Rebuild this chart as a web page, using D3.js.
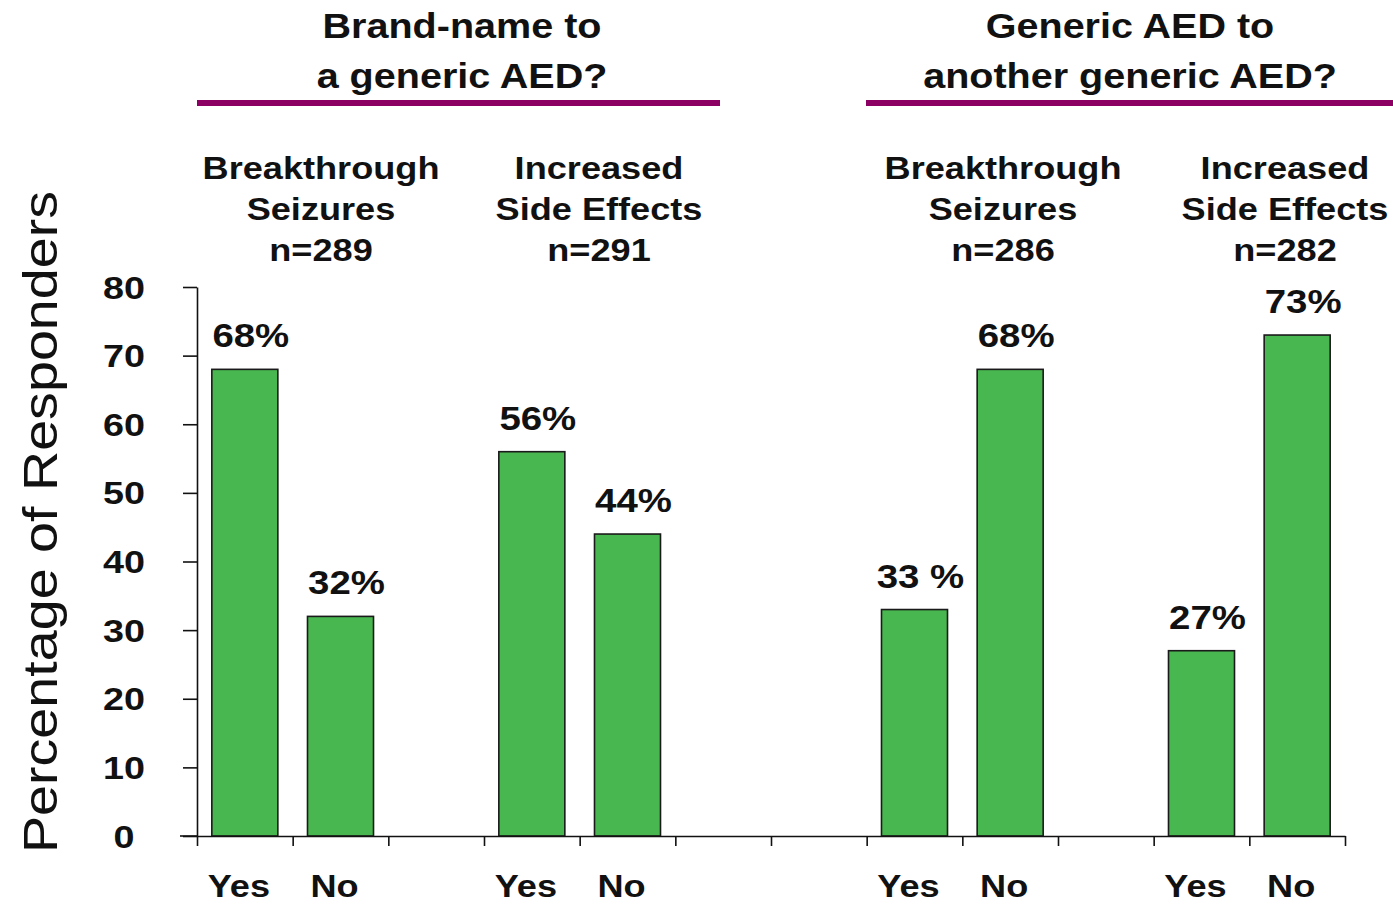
<!DOCTYPE html>
<html>
<head>
<meta charset="utf-8">
<script src="https://cdn.jsdelivr.net/npm/d3@7"></script>
<style>
  html, body { margin: 0; padding: 0; background: #fff; }
  svg { display: block; }
  text { font-family: "Liberation Sans", Arial, sans-serif; fill: #111; }
</style>
</head>
<body>
<svg id="chart" width="1393" height="904"></svg>
<script>
// Survey: did the switch cause breakthrough seizures / increased side effects?
const slotLabels = ["Yes", "No", "", "Yes", "No", "", "", "Yes", "No", "", "Yes", "No"];
const barSlots   = [0, 1, 3, 4, 7, 8, 10, 11];
const barValues  = [68, 32, 56, 44, 33, 68, 27, 73];
const barLabels  = ["68%", "32%", "56%", "44%", "33 %", "68%", "27%", "73%"];

const groupTitles = [
  ["Brand-name to", "a generic AED?"],
  ["Generic AED to", "another generic AED?"]
];
const panelTitles = [
  ["Breakthrough", "Seizures", "n=289"],
  ["Increased", "Side Effects", "n=291"],
  ["Breakthrough", "Seizures", "n=286"],
  ["Increased", "Side Effects", "n=282"]
];
const yTicks = [0, 10, 20, 30, 40, 50, 60, 70, 80];
const yTitle = "Percentage of Responders";

const svg = d3.select("#chart");
const plot = { left: 197, right: 1345, top: 287, bottom: 836 };
const WIDE = 1.13; // horizontal stretch of the lettering

// helper: bold text, slightly widened, anchored at (x, y)
function label(parent, x, y, str, size, opts = {}) {
  return parent.append("text")
    .attr("transform", `translate(${x},${y}) scale(${opts.k || WIDE},1)`)
    .attr("text-anchor", opts.anchor || "middle")
    .attr("font-weight", opts.weight || "bold")
    .attr("font-size", size)
    .text(str);
}

const y = d3.scaleLinear().domain([0, 80]).range([plot.bottom, plot.top]);
const xEdge = d3.scaleLinear().domain([0, slotLabels.length]).range([plot.left, plot.right]);
const xBand = d3.scaleBand()
  .domain(d3.range(slotLabels.length))
  .range([plot.left, plot.right])
  .paddingInner(0.31)
  .paddingOuter(0.155);

const bars = barSlots.map((s, i) => ({ slot: s, v: barValues[i], label: barLabels[i] }));

// bars
svg.append("g").selectAll("rect")
  .data(bars)
  .join("rect")
  .attr("x", d => xBand(d.slot))
  .attr("y", d => y(d.v))
  .attr("width", xBand.bandwidth())
  .attr("height", d => y(0) - y(d.v))
  .attr("fill", "#48b74f")
  .attr("stroke", "#1a1a1a")
  .attr("stroke-width", 1.6);

// value labels
const valueG = svg.append("g");
bars.forEach(d => {
  label(valueG, xBand(d.slot) + xBand.bandwidth() / 2 + 6, y(d.v) - 22, d.label, 34);
});

// y axis
const yAxis = svg.append("g")
  .attr("transform", `translate(${plot.left},0)`)
  .call(d3.axisLeft(y).tickValues(yTicks).tickSize(14).tickSizeOuter(0));
yAxis.select(".domain").attr("stroke", "#111").attr("stroke-width", 1.6);
yAxis.selectAll(".tick line").attr("stroke", "#111").attr("stroke-width", 1.6);
yAxis.selectAll(".tick text")
  .attr("x", 0)
  .attr("dy", null)
  .attr("transform", `translate(-73,11) scale(${WIDE + 0.05},1)`)
  .attr("font-family", "Liberation Sans, Arial, sans-serif")
  .attr("font-size", 32)
  .attr("font-weight", "bold")
  .attr("fill", "#111")
  .attr("text-anchor", "middle");

// x axis: ticks on slot edges
const xAxis = svg.append("g")
  .attr("transform", `translate(0,${plot.bottom})`)
  .call(d3.axisBottom(xEdge).tickValues(d3.range(slotLabels.length + 1)).tickFormat("").tickSize(10).tickSizeOuter(0));
xAxis.select(".domain").attr("stroke", "#111").attr("stroke-width", 1.6);
xAxis.selectAll(".tick line").attr("stroke", "#111").attr("stroke-width", 1.6);
// short stub of the baseline to the left of the y axis
svg.append("line")
  .attr("x1", plot.left - 17).attr("x2", plot.left)
  .attr("y1", plot.bottom).attr("y2", plot.bottom)
  .attr("stroke", "#111").attr("stroke-width", 1.6);

// category labels under the slots
const catG = svg.append("g");
slotLabels.forEach((l, i) => {
  if (l) label(catG, xBand(i) + xBand.bandwidth() / 2 - 6, 897, l, 32);
});

// y title
svg.append("text")
  .attr("transform", "translate(57,522) rotate(-90) scale(1.16,1)")
  .attr("text-anchor", "middle")
  .attr("font-size", 48)
  .attr("fill", "#222")
  .text(yTitle);

// group headers with underline rules
const groupPos = [
  { cx: 462, x1: 197, x2: 720 },
  { cx: 1130, x1: 866, x2: 1393 }
];
groupTitles.forEach((lines, gi) => {
  const g = groupPos[gi];
  lines.forEach((t, li) => label(svg, g.cx, 38 + li * 50, t, 35));
  svg.append("line")
    .attr("x1", g.x1).attr("x2", g.x2)
    .attr("y1", 103).attr("y2", 103)
    .attr("stroke", "#8c0064").attr("stroke-width", 6);
});

// panel headers
const panelX = [321, 599, 1003, 1285];
panelTitles.forEach((lines, pi) => {
  lines.forEach((t, li) => label(svg, panelX[pi], 179 + li * 41, t, 32));
});
</script>
</body>
</html>
